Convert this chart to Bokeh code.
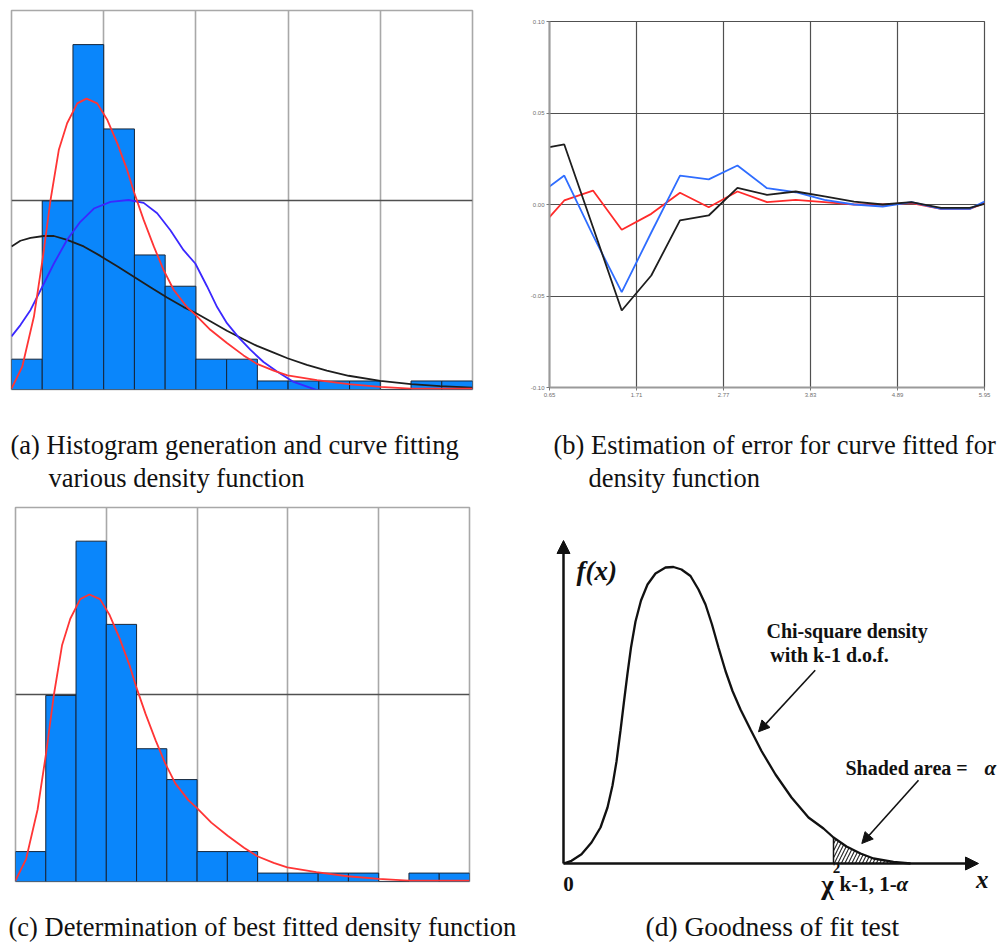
from bokeh.plotting import figure
from bokeh.layouts import column, row
from bokeh.models import Range1d, FixedTicker, Arrow, NormalHead, NumeralTickFormatter
from bokeh.core.properties import value
from bokeh.embed import file_html
from bokeh.resources import INLINE

# ---------------- data ----------------
# histogram (panels a and c): 15 bins, heights in arbitrary density units
bin_left = [0, 1, 2, 3, 4, 5, 6, 7, 8, 9, 10, 11, 12, 13, 14]
bin_right = [1, 2, 3, 4, 5, 6, 7, 8, 9, 10, 11, 12, 13, 14, 15]
bin_heights = [3.2, 19.9, 36.4, 27.5, 14.2, 10.9, 3.2, 3.2, 0.9, 0.9, 0.9, 0.9, 0.0, 0.9, 0.9]
hist_grid_x = [0, 3, 6, 9, 12, 15]
hist_grid_y = [0, 20, 40]

red_x = [0, 0.35, 0.73, 1.01, 1.27, 1.54, 1.81, 2.14, 2.44, 2.79, 3.11, 3.44, 3.76, 3.98, 4.30,
         4.63, 4.95, 5.28, 5.71, 5.98, 6.47, 7.01, 7.55, 7.99, 8.53, 8.98, 9.94, 10.97, 12.0, 12.99, 15.0]
red_y = [0.1, 2.4, 7.7, 13.7, 20.0, 25.3, 28.1, 30.2, 30.7, 30.2, 28.5, 26.0, 23.2, 20.9, 17.9,
         15.1, 12.6, 10.5, 8.7, 7.9, 6.3, 4.9, 3.6, 2.7, 2.0, 1.5, 1.0, 0.56, 0.28, 0.1, 0.1]

blue_x = [0, 0.29, 0.62, 1.01, 1.38, 1.81, 2.24, 2.68, 3.22, 3.81, 4.30, 4.74, 5.17, 5.60, 5.98,
          6.36, 6.69, 7.01, 7.39, 7.77, 8.20, 8.64, 9.18, 9.94, 11.02]
blue_y = [5.6, 6.8, 8.4, 10.9, 13.3, 15.8, 17.7, 19.1, 19.8, 20.0, 19.7, 18.6, 16.8, 14.7, 13.3,
          10.9, 8.7, 7.0, 5.5, 4.2, 2.9, 1.9, 0.8, -0.07, -0.6]

black_x = [0, 0.29, 0.62, 1.05, 1.38, 1.81, 2.35, 2.89, 3.44, 3.98, 4.52, 5.06, 5.60, 5.98, 6.47,
           7.01, 7.55, 7.99, 8.53, 8.98, 9.61, 10.26, 10.97, 12.0, 13.0, 13.95, 15.0]
black_y = [15.1, 15.7, 16.0, 16.2, 16.2, 15.8, 15.1, 14.1, 13.0, 11.9, 10.8, 9.7, 8.7, 8.1, 7.2,
           6.2, 5.3, 4.6, 3.9, 3.3, 2.6, 2.0, 1.45, 0.92, 0.56, 0.35, 0.2]

# error curves (panel b)
err_x = [0.65, 0.83, 1.18, 1.53, 1.89, 2.24, 2.59, 2.94, 3.30, 3.65, 4.00, 4.36, 4.71, 5.06, 5.42, 5.77, 5.95]
err_black = [0.0313, 0.0328, -0.0124, -0.0579, -0.0388, -0.0087, -0.0060, 0.0091, 0.0053, 0.0071,
             0.0044, 0.0016, 0.0000, 0.0013, -0.0018, -0.0018, 0.0004]
err_blue = [0.0098, 0.0158, -0.0169, -0.0479, -0.0153, 0.0158, 0.0137, 0.0213, 0.0089, 0.0067,
            0.0025, 0.0000, -0.0011, 0.0013, -0.0024, -0.0024, 0.0016]
err_red = [-0.0069, 0.0022, 0.0076, -0.0138, -0.0051, 0.0064, -0.0015, 0.0071, 0.0013, 0.0025,
           0.0013, 0.0000, 0.0000, 0.0007, -0.0024, -0.0024, 0.0007]
err_ticks_x = [0.65, 1.71, 2.77, 3.83, 4.89, 5.95]
err_ticks_y = [-0.10, -0.05, 0.0, 0.05, 0.10]

# chi-square sketch (panel d)
chi_x = [0, 8, 18, 28, 37, 44, 49, 53, 57, 60.5, 64, 67.5, 72, 77.5, 84, 92, 102, 110, 118, 127,
         135, 142, 148.5, 155, 162, 169, 177, 187, 198, 212, 228, 245, 260, 270, 283, 297, 310, 330, 347]
chi_y = [0, 2.7, 9.3, 21, 36, 56, 78, 102, 133, 162, 190, 216, 242, 263, 279, 290, 296, 296.5, 294,
         287.5, 274, 259, 239, 216, 192.5, 172.5, 154, 134, 112.5, 89, 66, 46, 35, 26, 17, 10, 5, 1.7, 0]
chi_shade_start = 270

captions_top = ["(a) Histogram generation and curve fitting", "various density function",
                "(b) Estimation of error for curve fitted for", "density function"]
captions_bottom = ["(c) Determination of best fitted density function", "(d) Goodness of fit test"]

SERIF = value("Liberation Serif")


def hist_panel(bl, bt, br, bb, w, h, curves):
    p = figure(width=w, height=h, x_range=Range1d(0, 15), y_range=Range1d(0, 40),
               x_axis_location=None, y_axis_location=None, toolbar_location=None,
               output_backend="svg", min_border_left=bl, min_border_top=bt,
               min_border_right=br, min_border_bottom=bb)
    p.xgrid.ticker = FixedTicker(ticks=hist_grid_x)
    p.ygrid.ticker = FixedTicker(ticks=hist_grid_y)
    p.xgrid.grid_line_color = "#a8a8a8"
    p.xgrid.grid_line_width = 1.6
    p.ygrid.grid_line_color = "#505050"
    p.ygrid.grid_line_width = 1.3
    p.outline_line_color = "#a8a8a8"
    p.outline_line_width = 1.6
    p.quad(left=bin_left, right=bin_right, top=bin_heights, bottom=0,
           fill_color="#0a86fb", line_color="#16263a", line_width=1)
    for xs, ys, col in curves:
        p.line(xs, ys, line_color=col, line_width=1.8)
    return p


pa = hist_panel(11, 10, 16, 21, 488, 410,
                [(black_x, black_y, "#1e1e1e"), (blue_x, blue_y, "#3b28ff"), (red_x, red_y, "#ff3535")])

pc = hist_panel(15, 7, 19, 19, 488, 400, [(red_x, red_y, "#ff3535")])

# panel b
pb = figure(width=512, height=410, x_range=Range1d(0.65, 5.95), y_range=Range1d(-0.10, 0.10),
            toolbar_location=None, output_backend="svg",
            min_border_left=61, min_border_right=16, min_border_top=21, min_border_bottom=23)
for ax, ticks in ((pb.xaxis, err_ticks_x), (pb.yaxis, err_ticks_y)):
    ax.ticker = FixedTicker(ticks=ticks)
    ax.formatter = NumeralTickFormatter(format="0.00")
    ax.axis_line_color = "#9a9a9a"
    ax.axis_line_width = 2
    ax.major_tick_in = 0
    ax.major_tick_out = 3
    ax.major_tick_line_color = "#777777"
    ax.minor_tick_line_color = None
    ax.major_label_text_font_size = "6px"
    ax.major_label_text_color = "#707070"
    ax.major_label_standoff = 2
    ax.major_label_text_font = "Liberation Sans"
pb.xgrid.ticker = FixedTicker(ticks=err_ticks_x)
pb.ygrid.ticker = FixedTicker(ticks=err_ticks_y)
pb.grid.grid_line_color = "#505050"
pb.grid.grid_line_width = 1.2
pb.outline_line_color = "#505050"
pb.outline_line_width = 1.2
pb.line(err_x, err_red, line_color="#ff2a2a", line_width=1.8)
pb.line(err_x, err_blue, line_color="#2f6dff", line_width=1.8)
pb.line(err_x, err_black, line_color="#1e1e1e", line_width=1.8)

# panel d
pd = figure(width=512, height=400, x_range=Range1d(-75, 437), y_range=Range1d(-37, 363),
            x_axis_location=None, y_axis_location=None, toolbar_location=None,
            output_backend="svg", min_border=0)
pd.grid.visible = False
pd.outline_line_color = None
shade_idx = [i for i, xv in enumerate(chi_x) if xv >= chi_shade_start]
shade_x = [chi_x[i] for i in shade_idx]
shade_y = [chi_y[i] for i in shade_idx]
pd.varea(x=shade_x, y1=[0] * len(shade_x), y2=shade_y, fill_color=None,
         hatch_pattern="/", hatch_color="#222222", hatch_scale=7, hatch_weight=1.1)
pd.segment(x0=[chi_shade_start], y0=[0], x1=[chi_shade_start], y1=[shade_y[0]],
           line_color="#111111", line_width=1.5)
pd.line(chi_x, chi_y, line_color="#111111", line_width=2.3)

axis_arrows = [(0, 0, 0, 323), (0, 0, 415, 0)]
for x0, y0, x1, y1 in axis_arrows:
    pd.add_layout(Arrow(end=NormalHead(size=13, fill_color="#111111", line_color="#111111"),
                        x_start=x0, y_start=y0, x_end=x1, y_end=y1,
                        line_color="#111111", line_width=2.5))
pointer_arrows = [(251.7, 193.3, 195, 131.7), (355, 83.3, 298.3, 20)]
for x0, y0, x1, y1 in pointer_arrows:
    pd.add_layout(Arrow(end=NormalHead(size=11, fill_color="#111111", line_color="#111111"),
                        x_start=x0, y_start=y0, x_end=x1, y_end=y1,
                        line_color="#111111", line_width=1.6))

def dtext(x, y, t, size, style="bold", align="left"):
    pd.text(x=[x], y=[y], text=[t], text_font=SERIF, text_font_size=size,
            text_font_style=style, text_align=align, text_baseline="middle", text_color="#111111")

dtext(13, 293, "f(x)", "27px", "bold italic")
dtext(283.6, 233, "Chi-square density", "20px", "bold", "center")
dtext(266, 209, "with k-1 d.o.f.", "20px", "bold", "center")
dtext(282, 96, "Shaded area =", "20px", "bold")
dtext(421, 96, "α", "21px", "bold italic")
dtext(5, -20, "0", "21px", "bold", "center")
dtext(418.7, -16, "x", "25px", "bold italic", "center")
dtext(264, -21, "χ", "27px", "bold", "center")
dtext(273, -4, "2", "15px", "bold", "center")
dtext(276, -20, "k-1, 1-", "21px", "bold")
dtext(333, -20, "α", "21px", "bold italic")


def caption_fig(w, h, items):
    p = figure(width=w, height=h, x_range=Range1d(0, w), y_range=Range1d(h, 0),
               x_axis_location=None, y_axis_location=None, toolbar_location=None,
               output_backend="svg", min_border=0)
    p.grid.visible = False
    p.outline_line_color = None
    for x, y, t, size in items:
        p.text(x=[x], y=[y], text=[t], text_font=SERIF, text_font_size=size,
               text_baseline="alphabetic", text_align="left", text_color="#111111")
    return p

cap_top = caption_fig(1000, 90, [(10, 34, captions_top[0], "26.5px"), (48, 67, captions_top[1], "26.5px"),
                                 (553, 34, captions_top[2], "26.5px"), (588, 67, captions_top[3], "26.5px")])
cap_bottom = caption_fig(1000, 42, [(8, 26, captions_bottom[0], "26.5px"),
                                    (645, 26, captions_bottom[1], "27.5px")])

layout = column(row(column(pa), column(pb)), cap_top, row(column(pc), column(pd)), cap_bottom)

open("out.html", "w").write(file_html(layout, INLINE))
